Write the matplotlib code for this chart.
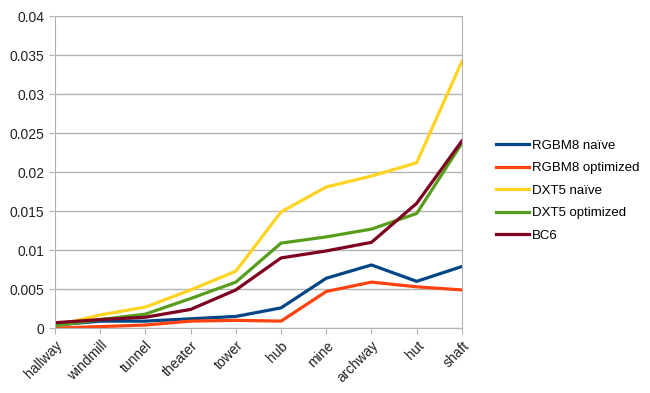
import matplotlib
matplotlib.use('Agg')
import matplotlib.pyplot as plt

plt.rcParams['font.family'] = ['Liberation Sans', 'DejaVu Sans']

scenes = ['hallway', 'windmill', 'tunnel', 'theater', 'tower', 'hub', 'mine', 'archway', 'hut', 'shaft']

rgbm8_naive = [0.0004, 0.0009, 0.0009, 0.0012, 0.0015, 0.0026, 0.0064, 0.0081, 0.0060, 0.0079]
rgbm8_opt = [0.0000, 0.0002, 0.0004, 0.0009, 0.0010, 0.0009, 0.0047, 0.0059, 0.0053, 0.0049]
dxt5_naive = [0.0003, 0.0017, 0.0027, 0.0049, 0.0073, 0.0149, 0.0181, 0.0195, 0.0212, 0.0342]
dxt5_opt = [0.0003, 0.0011, 0.0018, 0.0038, 0.0059, 0.0109, 0.0117, 0.0127, 0.0147, 0.0237]
bc6 = [0.0007, 0.0011, 0.0014, 0.0024, 0.0049, 0.0090, 0.0099, 0.0110, 0.0160, 0.0240]

series = [
    ('RGBM8 naïve', rgbm8_naive, '#004586'),
    ('RGBM8 optimized', rgbm8_opt, '#ff420e'),
    ('DXT5 naïve', dxt5_naive, '#ffd320'),
    ('DXT5 optimized', dxt5_opt, '#579d1c'),
    ('BC6', bc6, '#7e0021'),
]

fig = plt.figure(figsize=(6.5, 3.93), dpi=100)
ax = fig.add_axes([0.0846, 0.165, 0.626, 0.794])

x = range(len(scenes))
for name, vals, col in series:
    ax.plot(x, vals, color=col, linewidth=2.3, label=name)

ax.set_xlim(0, len(scenes) - 1)
ax.set_ylim(0, 0.04)
ax.set_yticks([0, 0.005, 0.01, 0.015, 0.02, 0.025, 0.03, 0.035, 0.04])
ax.set_yticklabels(['0', '0.005', '0.01', '0.015', '0.02', '0.025', '0.03', '0.035', '0.04'])
ax.set_xticks(list(x))
ax.set_xticklabels(scenes, rotation=45, ha='right', rotation_mode='anchor')
ax.yaxis.grid(True, color='#b3b3b3', linewidth=1)
ax.set_axisbelow(True)
for s in ax.spines.values():
    s.set_color('#b3b3b3')
ax.spines['top'].set_visible(False)
ax.tick_params(colors='#b3b3b3', labelcolor='#222222', labelsize=10, length=4)

fig.legend(loc='center left', bbox_to_anchor=(0.745, 0.515), frameon=False,
           fontsize=9.5, handlelength=2.5, handletextpad=0.2, labelspacing=0.78)

fig.savefig('out.png', dpi=100)
